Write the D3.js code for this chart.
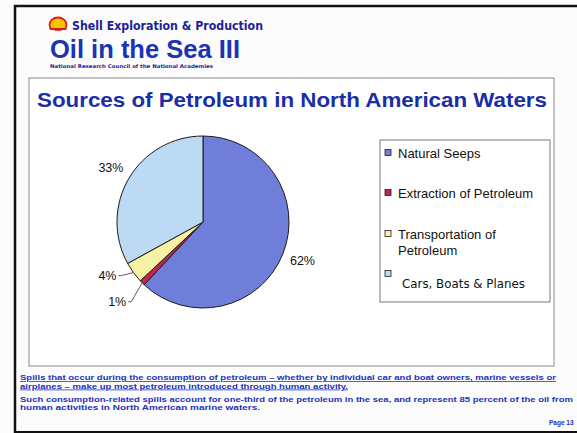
<!DOCTYPE html>
<html>
<head>
<meta charset="utf-8">
<script src="https://cdn.jsdelivr.net/npm/d3@7"></script>
<style>
  body { margin: 0; background: #fff; }
  svg { display: block; }
</style>
</head>
<body>
<div id="chart"></div>
<script>
// data
var sources = ["Natural Seeps", "Extraction of Petroleum", "Transportation of Petroleum", "Cars, Boats & Planes"]
var shares = [62, 1, 4, 33]
var sliceColors = ["#6f7fd9", "#c2264f", "#f7f1a6", "#bcdaf3"]
var legendLines = [["Natural Seeps"], ["Extraction of Petroleum"], ["Transportation of", "Petroleum"], ["Cars, Boats & Planes"]]

var svg = d3.select("#chart")
    .append("svg")
    .attr("width", 577)
    .attr("height", 433)

// slide frame
svg.append("rect").attr("width", 577).attr("height", 433).style("fill", "#fcfcfc")
svg.append("path")
    .attr("d", "M15,433 L15,6 L577,6")
    .style("fill", "none").style("stroke", "#111").style("stroke-width", 2.5)
svg.append("line").attr("x1", 15).attr("x2", 577).attr("y1", 432).attr("y2", 432)
    .style("stroke", "#111").style("stroke-width", 2)

// shell logo
var logo = svg.append("g").attr("transform", "translate(58,24)")
logo.append("path")
    .attr("d", "M-7.5,5 L-8.5,1 A8.5,7.5 0 1 1 8.5,1 L7.5,5 Z")
    .style("fill", "#f7c600").style("stroke", "#dd1d1d").style("stroke-width", 1.8)
logo.append("rect").attr("x", -3.5).attr("y", 4.2).attr("width", 7).attr("height", 2.6).style("fill", "#dd1d1d")

svg.append("text").text("Shell Exploration & Production")
    .attr("x", 72).attr("y", 29.5)
    .attr("textLength", 191).attr("lengthAdjust", "spacingAndGlyphs")
    .style("font-family", "DejaVu Sans").style("font-weight", "bold").style("font-size", "11.5px")
    .style("fill", "#1c2196")

svg.append("text").text("Oil in the Sea III")
    .attr("x", 50).attr("y", 58)
    .attr("textLength", 190).attr("lengthAdjust", "spacingAndGlyphs")
    .style("font-family", "Liberation Sans").style("font-weight", "bold").style("font-size", "26px")
    .style("fill", "#1a34b4")

svg.append("text").text("National Research Council of the National Academies")
    .attr("x", 50).attr("y", 67.5)
    .attr("textLength", 163).attr("lengthAdjust", "spacingAndGlyphs")
    .style("font-family", "DejaVu Sans").style("font-weight", "bold").style("font-size", "5px")
    .style("fill", "#1c2196")

// chart box
svg.append("rect").attr("x", 29).attr("y", 78).attr("width", 525).attr("height", 288)
    .style("fill", "#fff").style("stroke", "#8a8a8a").style("stroke-width", 1)

svg.append("text").text("Sources of Petroleum in North American Waters")
    .attr("x", 37).attr("y", 107)
    .attr("textLength", 510).attr("lengthAdjust", "spacingAndGlyphs")
    .style("font-family", "Liberation Sans").style("font-weight", "bold").style("font-size", "21px")
    .style("fill", "#1b2ea8")

// pie
var cx = 203, cy = 222, radius = 86

var pie = d3.pie().sort(null).value(d => d)
var arcs = pie(shares)
var arc = d3.arc().innerRadius(0).outerRadius(radius)

var g = svg.append("g").attr("transform", "translate(" + cx + "," + cy + ")")

g.selectAll("path.slice")
    .data(arcs)
    .enter()
    .append("path")
    .attr("class", "slice")
    .attr("d", arc)
    .style("fill", (d, i) => sliceColors[i])
    .style("stroke", "#1a1a1a")
    .style("stroke-width", 1)

function polar(angle, r) {
    return [r * Math.sin(angle), -r * Math.cos(angle)]
}

// label placement: big slices sit on their mid angle, small ones get pulled out with a leader
arcs.forEach((d, i) => {
    var mid = (d.startAngle + d.endAngle) / 2
    var label = shares[i] + "%"
    var pos, leader = null
    if (shares[i] >= 10) {
        pos = polar(mid, 107)
    } else {
        var edge = polar(mid, radius)
        var tip = shares[i] < 2 ? [edge[0] - 11, edge[1] + 19] : [edge[0] - 12, edge[1] + 3]
        var end = [tip[0] - 3, tip[1]]
        leader = [edge, tip, end]
        pos = [end[0] - 11, end[1]]
    }
    if (leader) {
        g.append("path")
            .attr("d", d3.line()(leader))
            .style("fill", "none").style("stroke", "#333").style("stroke-width", 0.8)
    }
    g.append("text").text(label)
        .attr("x", pos[0]).attr("y", pos[1])
        .attr("text-anchor", "middle")
        .attr("dominant-baseline", "central")
        .style("font-family", "Liberation Sans").style("font-size", "12.5px")
        .style("fill", "#111")
})

// legend
var legend = svg.append("g")
legend.append("rect").attr("x", 380).attr("y", 140).attr("width", 170).attr("height", 162)
    .style("fill", "#fff").style("stroke", "#777").style("stroke-width", 1)

var legendY = [153, 193, 234, 274]
legendLines.forEach((lines, i) => {
    legend.append("rect")
        .attr("x", 385).attr("y", legendY[i] - 3.5).attr("width", 6).attr("height", 6)
        .style("fill", sliceColors[i]).style("stroke", "#222").style("stroke-width", 0.8)
    if (i === 3) {
        legend.append("text").text(lines[0])
            .attr("x", 402).attr("y", legendY[i] + 14)
            .attr("textLength", 123).attr("lengthAdjust", "spacingAndGlyphs")
            .style("font-family", "DejaVu Sans").style("font-size", "12.5px").style("fill", "#111")
    } else {
        lines.forEach((t, j) => {
            legend.append("text").text(t)
                .attr("x", 398).attr("y", legendY[i] + 4.5 + j * 16)
                .style("font-family", "Liberation Sans").style("font-size", "13px").style("fill", "#111")
        })
    }
})

// notes under the chart
var notes = [
    { t: "Spills that occur during the consumption of petroleum \u2013 whether by individual car and boat owners, marine vessels or", y: 380, w: 536, u: true },
    { t: "airplanes \u2013 make up most petroleum introduced through human activity.", y: 388.5, w: 328, u: true },
    { t: "Such consumption-related spills account for one-third of the petroleum in the sea, and represent 85 percent of the oil from", y: 402, w: 553, u: false },
    { t: "human activities in North American marine waters.", y: 410, w: 240, u: false }
]
notes.forEach(n => {
    svg.append("text").text(n.t)
        .attr("x", 20).attr("y", n.y)
        .attr("textLength", n.w).attr("lengthAdjust", "spacingAndGlyphs")
        .style("font-family", "Liberation Sans").style("font-weight", "bold").style("font-size", "7.8px")
        .style("fill", "#2233b8")
        .style("text-decoration", n.u ? "underline" : "none")
})

svg.append("text").text("Page 13")
    .attr("x", 549).attr("y", 425)
    .style("font-family", "Liberation Sans").style("font-weight", "bold").style("font-size", "6.5px")
    .style("fill", "#2233b8")
</script>
</body>
</html>
